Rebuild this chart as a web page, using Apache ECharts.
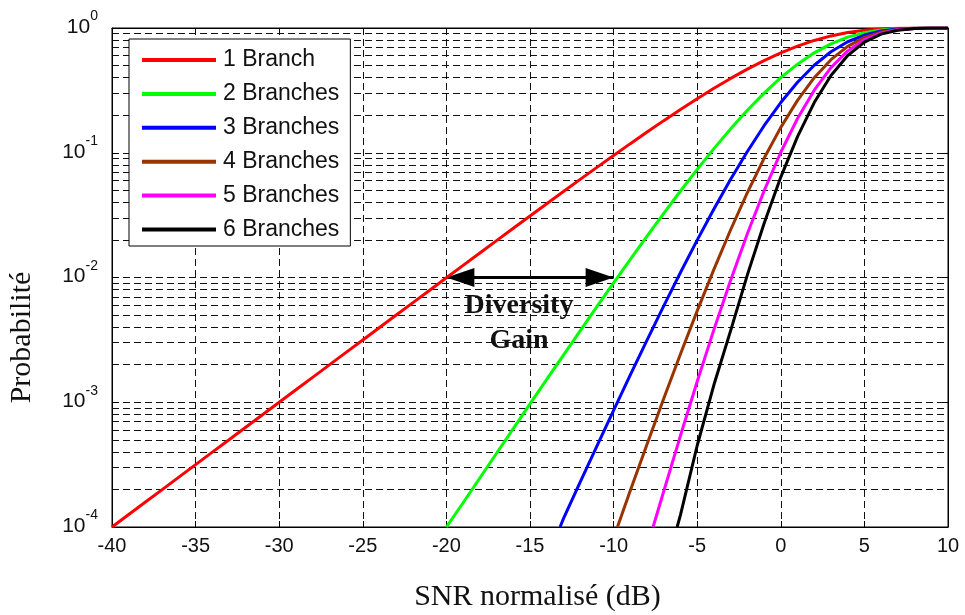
<!DOCTYPE html>
<html>
<head>
<meta charset="utf-8">
<script src="https://cdn.jsdelivr.net/npm/echarts@6/dist/echarts.min.js"></script>
<style>
html,body{margin:0;padding:0;background:#fff;}
#chart{width:965px;height:615px;}
</style>
</head>
<body>
<div id="chart"></div>
<script>
// ---- data ----
const seriesNames = ['1 Branch', '2 Branches', '3 Branches', '4 Branches', '5 Branches', '6 Branches'];
const seriesColors = ['#ff0000', '#00ff00', '#0000ff', '#993300', '#ff00ff', '#000000'];

const snr1 = [-40,-39,-38,-37,-36,-35,-34,-33,-32,-31,-30,-29,-28,-27,-26,-25,-24,-23,-22,-21,
              -20,-19,-18,-17,-16,-15,-14,-13,-12,-11,-10,-9,-8,-7,-6,-5,-4,-3,-2,-1,0,1,2,3,4,5,6,7,8,9,10];
const prob1 = [1.0e-4,1.259e-4,1.585e-4,1.995e-4,2.512e-4,3.162e-4,3.981e-4,5.012e-4,6.308e-4,7.940e-4,
               9.995e-4,1.258e-3,1.584e-3,1.993e-3,2.509e-3,3.157e-3,3.973e-3,4.999e-3,6.290e-3,7.912e-3,
               0.00995,0.01251,0.01572,0.01976,0.02481,0.03113,0.03903,0.04888,0.06115,0.07636,
               0.09516,0.1183,0.1466,0.1809,0.2221,0.2711,0.3284,0.3942,0.4679,0.5481,
               0.6321,0.7160,0.7950,0.8640,0.9189,0.9577,0.9813,0.9933,0.9982,0.9996,1.0];

const snr2 = [-20,-19,-18,-17,-16,-15,-14,-13,-12,-11,-10,-9,-8,-7,-6,-5,-4,-3,-2,-1,0,1,2,3,4,5,6,7,8,9,10];
const prob2 = [1.0e-4,1.565e-4,2.472e-4,3.903e-4,6.153e-4,9.690e-4,1.523e-3,2.390e-3,3.739e-3,5.831e-3,
               9.056e-3,0.01399,0.02148,0.03272,0.04934,0.07350,0.1079,0.1554,0.2189,0.3004,
               0.3996,0.5127,0.6321,0.7465,0.8444,0.9171,0.9630,0.9867,0.9964,0.9993,0.9999];

const snr3 = [-13.2,-13,-12,-11,-10,-9,-8,-7,-6,-5,-4,-3,-2,-1,0,1,2,3,4,5,6,7,8,9,10];
const prob3 = [1.0e-4,1.168e-4,2.286e-4,4.453e-4,8.618e-4,1.655e-3,3.149e-3,5.918e-3,0.01096,0.01993,
               0.03542,0.06125,0.1024,0.1647,0.2526,0.3671,0.5025,0.6450,0.7759,0.8783,
               0.9450,0.9802,0.9946,0.9989,0.9999];

const snr4 = [-9.77,-9,-8,-7,-6,-5,-4,-3,-2,-1,0,1,2,3,4,5,6,7,8,9,10];
const prob4 = [1.0e-4,1.958e-4,4.615e-4,1.071e-3,2.434e-3,5.402e-3,0.01163,0.02414,0.04794,0.09026,
               0.1597,0.2629,0.3995,0.5573,0.7129,0.8411,0.9274,0.9736,0.9927,0.9986,0.9998];

const snr5 = [-7.64,-7,-6,-5,-4,-3,-2,-1,0,1,2,3,4,5,6,7,8,9,10];
const prob5 = [1.0e-4,1.936e-4,5.407e-4,1.465e-3,3.820e-3,9.517e-3,0.02243,0.04947,0.1009,0.1882,
               0.3176,0.4815,0.6551,0.8055,0.9101,0.9672,0.9909,0.9982,0.9998];

const snr6 = [-6.2,-6,-5,-4,-3,-2,-1,0,1,2,3,4,5,6,7,8,9,10];
const prob6 = [1.0e-4,1.25e-4,4.5e-4,1.38e-3,3.752e-3,0.01050,0.02712,0.06380,0.1348,0.2525,
               0.4161,0.6020,0.7714,0.8931,0.9607,0.9891,0.9979,0.9997];

const xTicks = [-40,-35,-30,-25,-20,-15,-10,-5,0,5,10];
const yDecades = [1e-4, 1e-3, 1e-2, 1e-1, 1];
const minorMultipliers = [2,3,4,5,6,7,8,9];

// annotation: diversity gain arrow between 1 and 2 branches at P = 1e-2
const gainLevel = 0.01;
const gainFrom = -20;
const gainTo = -10;
const gainText = 'Diversity\nGain';

// ---- build chart ----
const snrSets = [snr1, snr2, snr3, snr4, snr5, snr6];
const probSets = [prob1, prob2, prob3, prob4, prob5, prob6];

const minorValues = [];
for (let i = 0; i < yDecades.length - 1; i++) {
  minorMultipliers.forEach(m => minorValues.push(m * yDecades[i]));
}

const dash = [7, 4];
const gridLineStyle = { color: '#111', width: 1, type: dash };

const series = seriesNames.map((name, i) => ({
  name: name,
  type: 'line',
  data: snrSets[i].map((x, j) => [x, probSets[i][j]]),
  showSymbol: false,
  symbol: 'none',
  smooth: false,
  lineStyle: { color: seriesColors[i], width: 3 },
  itemStyle: { color: seriesColors[i] },
  z: 3
}));

// minor horizontal grid lines
series.push({
  name: 'minorGrid',
  type: 'line',
  data: [],
  silent: true,
  z: 1,
  markLine: {
    silent: true,
    z: 1,
    precision: 8,
    symbol: 'none',
    animation: false,
    label: { show: false },
    lineStyle: gridLineStyle,
    emphasis: { disabled: true },
    data: minorValues.map(v => ({ yAxis: v }))
  }
});

// diversity gain arrow
const arrowHead = 'path://M0,25 L8.5,0 L17,25 Z';
series.push({
  name: 'gain',
  type: 'line',
  data: [],
  silent: true,
  z: 3,
  markLine: {
    silent: true,
    z: 3,
    precision: 8,
    animation: false,
    symbol: [arrowHead, arrowHead],
    symbolSize: [28, 28],
    symbolKeepAspect: true,
    symbolOffset: [[0, 14], [0, 14]],
    lineStyle: { color: '#000', width: 3, type: 'solid' },
    itemStyle: { color: '#000' },
    emphasis: { disabled: true },
    label: {
      show: true,
      position: 'insideMiddleBottom',
      formatter: gainText,
      fontFamily: 'Liberation Serif',
      fontWeight: 'bold',
      fontSize: 28,
      lineHeight: 35,
      color: '#111',
      distance: 11,
      padding: [0, 22, 0, 0]
    },
    data: [[{ coord: [gainFrom, gainLevel] }, { coord: [gainTo, gainLevel] }]]
  }
});

const supMap = v => {
  const e = Math.round(Math.log10(v));
  return '{b|10}{s|' + e + '}';
};

const option = {
  animation: false,
  backgroundColor: '#fff',
  grid: { left: 112, right: 17, top: 28, bottom: 88, outerBoundsMode: 'none', containLabel: false,
          show: true, borderColor: '#000', borderWidth: 1, backgroundColor: 'transparent' },
  legend: {
    data: seriesNames,
    orient: 'vertical',
    left: 129,
    top: 39,
    icon: 'rect',
    itemWidth: 74,
    itemHeight: 4,
    itemGap: 10.9,
    padding: [9.5, 11, 5, 13],
    backgroundColor: '#fff',
    borderColor: '#000',
    borderWidth: 1,
    selectedMode: false,
    z: 10,
    textStyle: { fontFamily: 'Liberation Sans', fontSize: 23, color: '#111', lineHeight: 23, padding: [0, 0, 0, 2] }
  },
  xAxis: [{
    type: 'value',
    min: -40, max: 10, interval: 5,
    name: 'SNR normalisé (dB)',
    nameLocation: 'middle',
    nameGap: 55,
    nameTextStyle: { fontFamily: 'Liberation Serif', fontSize: 30, color: '#111', padding: [0, 0, 0, 15] },
    axisLine: { show: true, onZero: false, lineStyle: { color: '#000', width: 1 } },
    axisTick: { show: true, inside: true, length: 6, lineStyle: { color: '#000' } },
    axisLabel: { fontFamily: 'Liberation Sans', fontSize: 20, color: '#111', margin: 9,
      formatter: v => (xTicks.indexOf(v) >= 0 ? String(v) : '') },
    splitLine: { show: true, lineStyle: gridLineStyle }
  }, {
    type: 'value',
    position: 'top',
    min: -40, max: 10, interval: 5,
    axisLine: { show: true, onZero: false, lineStyle: { color: '#000' } },
    axisTick: { show: true, inside: true, length: 6, lineStyle: { color: '#000' } },
    axisLabel: { show: false },
    splitLine: { show: false }
  }],
  yAxis: [{
    type: 'log',
    logBase: 10,
    min: yDecades[0], max: yDecades[yDecades.length - 1],
    name: 'Probabilité',
    nameLocation: 'middle',
    nameGap: 75,
    nameRotate: 90,
    nameTextStyle: { fontFamily: 'Liberation Serif', fontSize: 30, color: '#111', padding: [0, 120, 0, 0] },
    axisLine: { show: true, onZero: false, lineStyle: { color: '#000', width: 1 } },
    axisTick: { show: true, inside: true, length: 6, lineStyle: { color: '#000' } },
    axisLabel: {
      margin: 14,
      formatter: supMap,
      padding: [0, 0, 3, 0],
      rich: {
        b: { fontFamily: 'Liberation Sans', fontSize: 21, color: '#111', verticalAlign: 'bottom', lineHeight: 22 },
        s: { fontFamily: 'Liberation Sans', fontSize: 14, color: '#111', verticalAlign: 'bottom', lineHeight: 14, padding: [0, 0, 14, 0] }
      }
    },
    splitLine: { show: true, lineStyle: gridLineStyle }
  }, {
    type: 'log',
    logBase: 10,
    position: 'right',
    min: yDecades[0], max: yDecades[yDecades.length - 1],
    axisLine: { show: true, onZero: false, lineStyle: { color: '#000' } },
    axisTick: { show: true, inside: true, length: 6, lineStyle: { color: '#000' } },
    axisLabel: { show: false },
    splitLine: { show: false }
  }],
  series: series
};

const chart = echarts.init(document.getElementById('chart'), null, { renderer: 'canvas' });
chart.setOption(option);
</script>
</body>
</html>
